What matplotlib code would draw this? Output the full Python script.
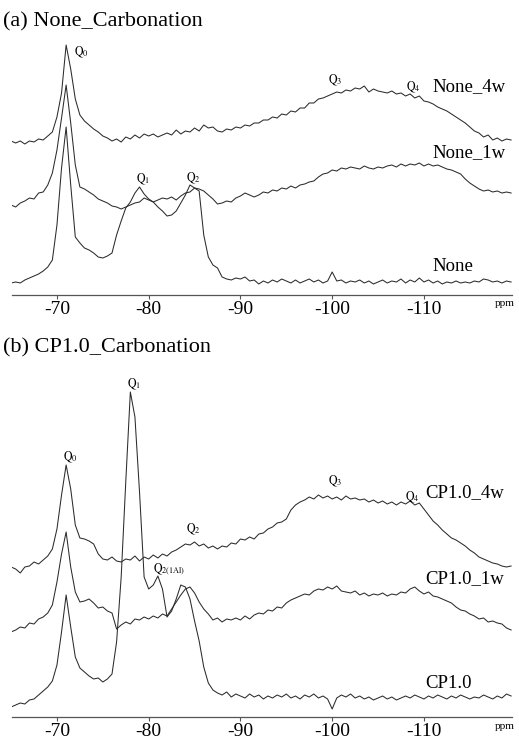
import numpy as np
import matplotlib
matplotlib.use("Agg")
import matplotlib.pyplot as plt

plt.rcParams['font.family'] = 'Liberation Serif'
plt.rcParams['mathtext.fontset'] = 'stix'

# chemical shift grid (ppm), 0.5 ppm steps
ppm = np.arange(-65.0, -119.51, -0.5)

# (a) intensities, arbitrary units, each relative to its own baseline
none_4w = [4, 2, 4, 1, 4, 3, 6, 5, 9, 13,
           28, 52, 100, 76, 46, 30, 24, 20, 16, 13,
           9, 7, 4, 6, 3, 8, 6, 10, 7, 11,
           9, 11, 8, 10, 12, 10, 15, 11, 14, 13,
           17, 14, 20, 17, 18, 14, 13, 16, 15, 18,
           17, 20, 19, 22, 22, 25, 25, 28, 27, 31,
           30, 34, 33, 37, 37, 42, 42, 46, 47, 49,
           51, 53, 52, 55, 54, 57, 56, 59, 53, 56,
           54, 53, 52, 54, 51, 52, 49, 51, 47, 49,
           44, 43, 41, 38, 36, 34, 31, 28, 25, 22,
           18, 14, 12, 8, 10, 5, 7, 4, 6, 5]
none_1w = [5, 3, 7, 9, 12, 11, 17, 18, 25, 37,
           60, 92, 125, 87, 45, 23, 21, 18, 15, 11,
           9, 7, 4, 3, 1, 3, 5, 7, 8, 12,
           10, 8, 10, 12, 11, 13, 10, 14, 17, 18,
           22, 21, 19, 15, 11, 6, 7, 9, 8, 12,
           14, 17, 15, 13, 15, 18, 17, 20, 19, 22,
           21, 24, 22, 25, 26, 28, 29, 33, 36, 37,
           40, 39, 42, 41, 43, 42, 41, 44, 42, 41,
           43, 42, 44, 45, 43, 46, 44, 46, 45, 47,
           44, 46, 44, 45, 43, 41, 40, 38, 36, 31,
           27, 24, 21, 19, 20, 18, 19, 17, 18, 17]
none_0 = [2, 3, 2, 5, 7, 9, 11, 14, 18, 25,
          60, 117, 158, 100, 48, 42, 37, 35, 32, 28,
          27, 29, 32, 50, 64, 77, 83, 92, 98, 91,
          86, 83, 78, 74, 69, 70, 74, 82, 90, 100,
          97, 94, 50, 28, 20, 17, 8, 6, 5, 7,
          6, 8, 4, 5, 1, 4, 2, 5, 3, 6,
          4, 2, 5, 2, 4, 6, 3, 5, 2, 4,
          13, 4, 5, 2, 4, 3, 5, 2, 4, 1,
          3, 5, 2, 4, 3, 6, 2, 5, 3, 7,
          3, 5, 2, 4, 1, 3, 2, 4, 2, 3,
          2, 4, 3, 6, 5, 3, 4, 2, 4, 3]

# (b)
cp_4w = [5, 3, -1, 5, 6, 10, 8, 12, 16, 23,
         43, 77, 107, 83, 47, 34, 33, 31, 28, 18,
         13, 12, 15, 11, 10, 13, 12, 16, 11, 15,
         13, 17, 14, 18, 16, 20, 22, 25, 28, 27,
         30, 26, 28, 24, 26, 23, 26, 25, 29, 28,
         33, 32, 35, 33, 38, 39, 43, 45, 49, 50,
         53, 62, 67, 70, 72, 75, 73, 77, 74, 76,
         73, 75, 72, 76, 73, 74, 72, 73, 70, 72,
         69, 71, 68, 70, 67, 70, 68, 71, 67, 69,
         63, 57, 51, 47, 42, 38, 34, 32, 29, 26,
         22, 19, 15, 13, 11, 9, 8, 6, 5, 6]
cp_1w = [0, 2, 5, 4, 9, 8, 13, 15, 19, 27,
         50, 78, 100, 65, 40, 30, 31, 33, 29, 24,
         25, 21, 19, 3, 7, 10, 8, 13, 12, 15,
         13, 16, 14, 18, 16, 23, 30, 37, 43, 45,
         39, 30, 23, 18, 12, 14, 10, 13, 12, 14,
         12, 16, 13, 17, 19, 18, 22, 21, 25, 24,
         29, 32, 34, 36, 38, 37, 41, 43, 42, 45,
         43, 46, 41, 40, 39, 41, 37, 39, 36, 38,
         37, 39, 36, 38, 37, 40, 39, 43, 45, 41,
         38, 40, 36, 35, 33, 31, 29, 25, 22, 21,
         18, 16, 13, 14, 10, 11, 9, 8, 4, 2]
cp_0 = [-5, -3, -1, -2, 2, 3, 7, 11, 15, 21,
        37, 70, 107, 75, 45, 34, 30, 26, 23, 24,
        20, 23, 28, 60, 125, 220, 310, 285, 210, 125,
        113, 117, 126, 113, 85, 91, 103, 117, 115, 103,
        81, 61, 35, 19, 12, 9, 7, 10, 5, 8,
        6, 4, 8, 5, 7, 3, 6, 4, 7, 5,
        8, 4, 6, 3, 7, 5, 8, 4, 6, 3,
        -7, 4, 7, 5, 8, 4, 6, 3, 5, 2,
        4, 6, 3, 5, 2, 4, 6, 4, 7, 5,
        3, 6, 4, 7, 5, 3, 6, 4, 7, 5,
        3, 5, 4, 7, 5, 3, 6, 4, 8, 6]

tick_vals = [-70, -80, -90, -100, -110]
tick_labels = ['-70', '-80', '-90', '-100', '-110']

fig = plt.figure(figsize=(5.19, 7.4), dpi=100)
ax_a = fig.add_axes([12 / 519, 445 / 740, 500 / 519, 265 / 740])
ax_b = fig.add_axes([12 / 519, 23 / 740, 500 / 519, 352 / 740])

line_kw = dict(color='#2b2b2b', lw=0.75)


def setup(ax, top):
    ax.set_xlim(-65.1, -119.6)
    ax.set_ylim(0, top)
    for s in ['top', 'right', 'left']:
        ax.spines[s].set_visible(False)
    ax.spines['bottom'].set_color('#555555')
    ax.spines['bottom'].set_linewidth(0.9)
    ax.set_yticks([])
    ax.set_xticks(tick_vals)
    ax.set_xticklabels(tick_labels)
    ax.tick_params(axis='x', length=3, width=0.8, pad=1.5, labelsize=14,
                   color='#555555')
    ax.patch.set_alpha(0)
    ax.text(0.985, -0.015, 'ppm', transform=ax.transAxes, ha='center',
            va='top', fontsize=8)


setup(ax_a, 265)
setup(ax_b, 352)

# stacked spectra (a)
ax_a.plot(ppm, np.array(none_4w) + 150, **line_kw)
ax_a.plot(ppm, np.array(none_1w) + 85, **line_kw)
ax_a.plot(ppm, np.array(none_0) + 10, **line_kw)

ax_a.text(-110.9, 204, 'None_4w', fontsize=13.5)
ax_a.text(-110.9, 138, 'None_1w', fontsize=13.5)
ax_a.text(-110.9, 24, 'None', fontsize=13.5)

q_fs = 8.5
ax_a.text(-71.85, 240, r'$\mathrm{Q_0}$', fontsize=q_fs)
ax_a.text(-78.6, 113, r'$\mathrm{Q_1}$', fontsize=q_fs)
ax_a.text(-84.1, 114, r'$\mathrm{Q_2}$', fontsize=q_fs)
ax_a.text(-99.55, 212, r'$\mathrm{Q_3}$', fontsize=q_fs)
ax_a.text(-108.1, 205, r'$\mathrm{Q_4}$', fontsize=q_fs)

# stacked spectra (b)
ax_b.plot(ppm, np.array(cp_4w) + 145, **line_kw)
ax_b.plot(ppm, np.array(cp_1w) + 85, **line_kw)
ax_b.plot(ppm, np.array(cp_0) + 15, **line_kw)

ax_b.text(-110.1, 220, 'CP1.0_4w', fontsize=13.5)
ax_b.text(-110.1, 134, 'CP1.0_1w', fontsize=13.5)
ax_b.text(-110.1, 29, 'CP1.0', fontsize=13.5)

ax_b.text(-70.65, 257, r'$\mathrm{Q_0}$', fontsize=q_fs)
ax_b.text(-77.6, 330, r'$\mathrm{Q_1}$', fontsize=q_fs)
ax_b.text(-84.1, 185, r'$\mathrm{Q_2}$', fontsize=q_fs)
ax_b.text(-80.5, 145, r'$\mathrm{Q_{2(1Al)}}$', fontsize=q_fs)
ax_b.text(-99.55, 233, r'$\mathrm{Q_3}$', fontsize=q_fs)
ax_b.text(-107.9, 217, r'$\mathrm{Q_4}$', fontsize=q_fs)

fig.text(3 / 519, 1 - 26 / 740, '(a) None_Carbonation', fontsize=16,
         va='baseline')
fig.text(3 / 519, 1 - 352 / 740, '(b) CP1.0_Carbonation', fontsize=16,
         va='baseline')

fig.savefig('out.png', dpi=100)
